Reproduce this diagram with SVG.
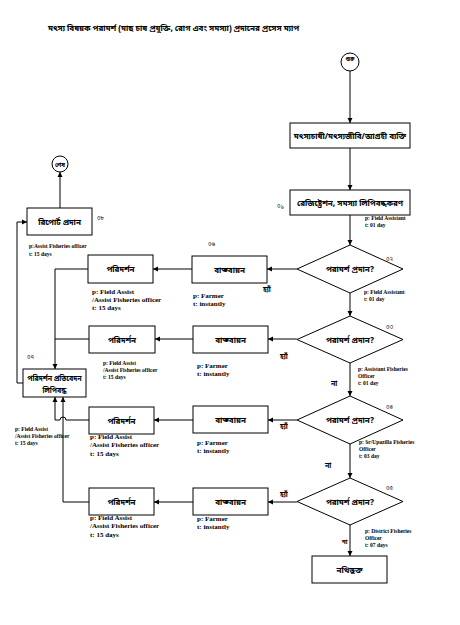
<svg xmlns="http://www.w3.org/2000/svg" width="460" height="625" viewBox="0 0 460 625">
<defs>
<marker id="ah" markerWidth="6" markerHeight="6" refX="5" refY="3" orient="auto" markerUnits="userSpaceOnUse">
<path d="M0,0.5 L5,3 L0,5.5 Z" fill="#000"/>
</marker>
<style>
.bx{fill:#fff;stroke:#000;stroke-width:1}
.ln{fill:none;stroke:#000;stroke-width:1}
.ar{fill:none;stroke:#000;stroke-width:1;marker-end:url(#ah)}
.bn{font-family:"Noto Sans Bengali","Noto Sans",sans-serif;font-weight:bold;font-size:8px;text-anchor:middle;fill:#000}
.num{font-family:"Noto Sans Bengali","Noto Sans",sans-serif;font-size:6px;fill:#000}
.lb{font-family:"Liberation Serif",serif;font-weight:bold;font-size:7px;fill:#000}
.ls{font-family:"Liberation Serif",serif;font-weight:bold;font-size:5.5px;fill:#000}
.yn{font-family:"Noto Sans Bengali","Noto Sans",sans-serif;font-weight:bold;font-size:7px;fill:#000}
</style>
</defs>
<rect width="460" height="625" fill="#fff"/>
<text x="48" y="31" class="bn" style="text-anchor:start;font-size:8px">মৎস্য বিষয়ক পরামর্শ (মাছ চাষ প্রযুক্তি, রোগ এবং সমস্যা) প্রদানের প্রসেস ম্যাপ</text>

<g id="connectors">
<path class="ar" d="M350,71 L350,123"/>
<path class="ar" d="M350,148 L350,190"/>
<path class="ar" d="M350,215 L350,245"/>
<path class="ar" d="M350,293 L350,316"/>
<path class="ar" d="M350,363 L350,396"/>
<path class="ar" d="M350,444 L350,478"/>
<path class="ar" d="M350,525 L350,556"/>
<path class="ar" d="M297,269 L267,269"/>
<path class="ar" d="M297,339 L268,339"/>
<path class="ar" d="M297,420 L268,420"/>
<path class="ar" d="M297,502 L268,502"/>
<path class="ar" d="M192,269 L153,269"/>
<path class="ar" d="M193,339 L155,339"/>
<path class="ar" d="M193,420 L154,420"/>
<path class="ar" d="M193,502 L154,502"/>
<path class="ar" d="M88,269 L55,269 L55,369"/>
<path class="ln" d="M89,339 L55,339"/>
<path class="ar" d="M89,420 L66,420 A3,3 0 0 0 60,420 L55,420 L55,397"/>
<path class="ar" d="M89,502 L63,502 L63,397"/>
<path class="ar" d="M23,383 L17,383 L17,222 L27,222"/>
<path class="ar" d="M60,208 L60,172"/>
</g>

<g id="start">
<circle cx="350" cy="62" r="9" class="bx"/>
<text x="350" y="61" class="num" style="text-anchor:middle;font-weight:bold;font-size:5.5px">শুরু</text>
</g>
<g id="end">
<circle cx="60" cy="164" r="8" class="bx"/>
<text x="60" y="167" class="num" style="text-anchor:middle;font-weight:bold;font-size:6px">শেষ</text>
</g>

<g id="n-farmer">
<rect x="290" y="123" width="120" height="25" class="bx"/>
<text x="350" y="138.5" class="bn">মৎস্যচাষী/মৎস্যজীবি/আগ্রহী ব্যক্তি</text>
</g>
<g id="n-reg">
<rect x="290" y="190" width="120" height="25" class="bx"/>
<text x="350" y="205.5" class="bn">রেজিষ্ট্রেশন, সমস্যা লিপিবদ্ধকরণ</text>
<text x="277" y="208" class="num">০১</text>
<text x="365" y="220" class="ls">p: Field Assistant</text>
<text x="365" y="227" class="ls">t: 01 day</text>
</g>

<g id="d1">
<polygon points="350,245 403,269 350,293 297,269" class="bx"/>
<text x="350" y="272" class="bn">পরামর্শ প্রদান?</text>
<text x="386" y="261" class="num">০২</text>
<text x="364" y="294" class="ls">p: Field Assistant</text>
<text x="364" y="301" class="ls">t: 01 day</text>
<text x="340" y="325" class="yn">না</text>
<text x="263" y="292" class="yn">হ্যাঁ</text>
</g>
<g id="d2">
<polygon points="350,316 403,339.5 350,363 297,339.5" class="bx"/>
<text x="350" y="342.5" class="bn">পরামর্শ প্রদান?</text>
<text x="386" y="329" class="num">০৩</text>
<text x="358" y="371" class="ls">p: Assistant Fisheries</text>
<text x="358" y="378" class="ls">Officer</text>
<text x="358" y="385" class="ls">t: 01 day</text>
<text x="331" y="386" class="yn">না</text>
<text x="280" y="359" class="yn">হ্যাঁ</text>
</g>
<g id="d3">
<polygon points="350,396 403,420 350,444 297,420" class="bx"/>
<text x="350" y="423" class="bn">পরামর্শ প্রদান?</text>
<text x="386" y="409" class="num">০৪</text>
<text x="359" y="444" class="ls">p: Sr/Upazilla Fisheries</text>
<text x="359" y="451" class="ls">Officer</text>
<text x="359" y="458" class="ls">t: 03 day</text>
<text x="325" y="468" class="yn">না</text>
<text x="280" y="429" class="yn">হ্যাঁ</text>
</g>
<g id="d4">
<polygon points="350,478 403,501.5 350,525 297,501.5" class="bx"/>
<text x="350" y="504.5" class="bn">পরামর্শ প্রদান?</text>
<text x="386" y="490" class="num">০৫</text>
<text x="365" y="533" class="ls">p: District Fisheries</text>
<text x="365" y="540" class="ls">Officer</text>
<text x="365" y="547" class="ls">t: 07 days</text>
<text x="342" y="544" class="yn" style="font-size:6px">না</text>
<text x="280" y="497" class="yn">হ্যাঁ</text>
</g>

<g id="impl1">
<rect x="192" y="256" width="75" height="27" class="bx"/>
<text x="229.5" y="272.5" class="bn">বাস্তবায়ন</text>
<text x="208" y="246" class="num">০৬</text>
<text x="193" y="298" class="lb">p: Farmer</text>
<text x="193" y="306" class="lb">t: instantly</text>
</g>
<g id="impl2">
<rect x="193" y="326" width="75" height="27" class="bx"/>
<text x="230.5" y="342.5" class="bn">বাস্তবায়ন</text>
<text x="197" y="368" class="lb">p: Farmer</text>
<text x="197" y="376" class="lb">t: instantly</text>
</g>
<g id="impl3">
<rect x="193" y="406" width="75" height="27" class="bx"/>
<text x="230.5" y="422.5" class="bn">বাস্তবায়ন</text>
<text x="197" y="445" class="lb">p: Farmer</text>
<text x="197" y="453" class="lb">t: instantly</text>
</g>
<g id="impl4">
<rect x="193" y="488" width="75" height="27" class="bx"/>
<text x="230.5" y="504.5" class="bn">বাস্তবায়ন</text>
<text x="197" y="521" class="lb">p: Farmer</text>
<text x="197" y="529" class="lb">t: instantly</text>
</g>

<g id="insp1">
<rect x="88" y="255" width="65" height="28" class="bx"/>
<text x="120.5" y="272" class="bn">পরিদর্শন</text>
<text x="92" y="294" class="lb">p: Field Assist</text>
<text x="92" y="302" class="lb">/Assist Fisheries officer</text>
<text x="92" y="310" class="lb">t: 15 days</text>
</g>
<g id="insp2">
<rect x="89" y="326" width="66" height="27" class="bx"/>
<text x="122" y="342.5" class="bn">পরিদর্শন</text>
<text x="103" y="365" class="ls">p: Field Assist</text>
<text x="103" y="372" class="ls">/Assist Fisheries officer</text>
<text x="103" y="379" class="ls">t: 15 days</text>
</g>
<g id="insp3">
<rect x="89" y="407" width="65" height="27" class="bx"/>
<text x="121.5" y="423.5" class="bn">পরিদর্শন</text>
<text x="90" y="439" class="lb">p: Field Assist</text>
<text x="90" y="447" class="lb">/Assist Fisheries officer</text>
<text x="90" y="456" class="lb">t: 15 days</text>
<text x="15" y="431" class="ls">p: Field Assist</text>
<text x="15" y="438" class="ls">/Assist Fisheries officer</text>
<text x="15" y="445" class="ls">t: 15 days</text>
</g>
<g id="insp4">
<rect x="89" y="488" width="65" height="27" class="bx"/>
<text x="121.5" y="504.5" class="bn">পরিদর্শন</text>
<text x="90" y="520" class="lb">p: Field Assist</text>
<text x="90" y="528" class="lb">/Assist Fisheries officer</text>
<text x="90" y="537" class="lb">t: 15 days</text>
</g>

<g id="record">
<rect x="23" y="369" width="63" height="28" class="bx"/>
<text x="54.5" y="381" class="bn" style="font-size:7px">পরিদর্শন প্রতিবেদন</text>
<text x="54.5" y="393" class="bn" style="font-size:7px">লিপিবদ্ধ</text>
<text x="27" y="359" class="num">০৭</text>
</g>
<g id="report">
<rect x="27" y="208" width="65" height="27" class="bx"/>
<text x="59.5" y="224.5" class="bn">রিপোর্ট প্রদান</text>
<text x="97" y="220" class="num">০৮</text>
<text x="29" y="248" class="ls">p:Assist Fisheries officer</text>
<text x="29" y="256" class="ls">t: 15 days</text>
</g>
<g id="filed">
<rect x="312" y="556" width="75" height="27" class="bx"/>
<text x="349.5" y="572.5" class="bn">নথিভুক্ত</text>
</g>
</svg>
